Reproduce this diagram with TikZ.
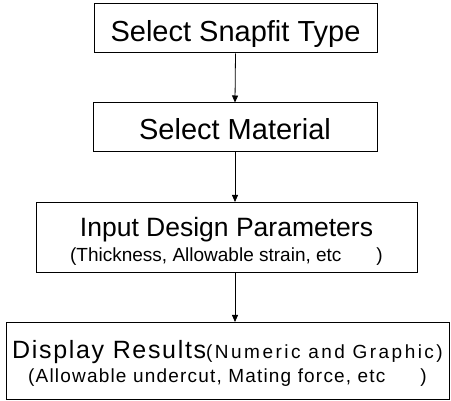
\documentclass[tikz,border=0pt]{standalone}
\usepackage{fontspec}
\setmainfont{Liberation Sans}
\usetikzlibrary{arrows.meta}

\tikzset{
  flowbox/.style={draw, line width=1pt, inner sep=0pt},
  flowarrow/.style={line width=0.8pt, -{Triangle[length=7pt,width=6pt]}}
}

\begin{document}
\begin{tikzpicture}[x=1pt,y=-1pt]
\useasboundingbox (0,0) rectangle (451,401);

 \node[flowbox, minimum width=283pt, minimum height=49pt, text height=26pt, text depth=0pt,
   font=\fontsize{29}{32}\selectfont] (snap) at (235.5,28.5) {Select Snapfit Type};

 \node[flowbox, minimum width=284pt, minimum height=49pt, text height=25pt, text depth=0pt,
   font=\fontsize{29}{32}\selectfont] (mat) at (235,127.5) {Select Material};

 \node[flowbox, minimum width=381pt, minimum height=70pt, text height=49pt, text depth=0pt,
   align=center, font=\fontsize{26.5}{25}\selectfont] (inp) at (226.5,237.5)
   {Input Design Parameters\\
    {\fontsize{19}{25}\selectfont (Thickness, Allowable strain, etc\hspace{35pt})}};

 \node[flowbox, minimum width=443pt, minimum height=77pt, text height=44pt, text depth=0pt,
   align=center, font=\fontsize{25}{24}\selectfont] (disp) at (227.5,361)
   {{\addfontfeature{LetterSpace=6.7}Display Results}{\fontsize{19}{24}\selectfont\addfontfeature{LetterSpace=13}(Numeric and Graphic)}\\
    {\fontsize{19}{24}\selectfont\addfontfeature{LetterSpace=6.3}(Allowable undercut, Mating force, etc\hspace{35pt})}};

 \draw[flowarrow] (snap.south) -- (mat.north);
 \draw[flowarrow] (mat.south) -- (mat.south |- inp.north);
 \draw[flowarrow] (inp.south -| mat.south) -- (mat.south |- disp.north);
\end{tikzpicture}
\end{document}
